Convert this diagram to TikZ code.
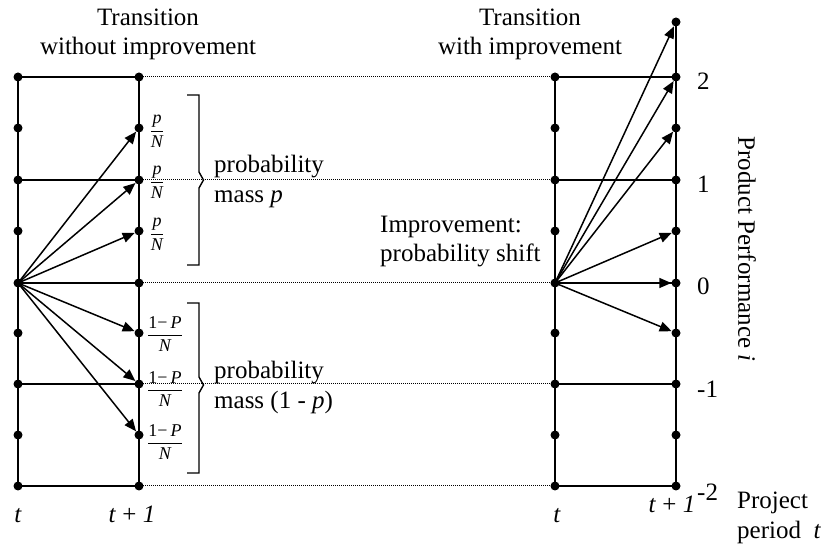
\documentclass[tikz,border=0pt]{standalone}
\usepackage{fontspec}
\setmainfont{Liberation Serif}
\usetikzlibrary{arrows.meta}
\begin{document}
\begin{tikzpicture}[x=1pt,y=-1pt,
  grid/.style={line width=1.8pt},
  dotline/.style={line width=1pt, dash pattern=on 1pt off 1pt},
  arr/.style={line width=1.5pt, -{Triangle[length=12pt,width=10pt]}},
  dot/.style={circle, fill=black, inner sep=0pt, minimum size=9pt},
  lab/.style={font=\fontsize{25}{29}\selectfont, inner sep=0pt},
  frac/.style={font=\fontsize{18}{21}\selectfont, inner sep=0pt},
  brk/.style={line width=1.4pt},
]
\useasboundingbox (0,0) rectangle (823,545);
% dots
\foreach \k/\y in {0/77,1/128,2/180,3/231,4/283,5/333,6/384,7/435,8/486}{
  \node[dot] (L\k) at (18,\y) {};
  \node[dot] (M\k) at (139,\y) {};
  \node[dot] (R\k) at (555,\y) {};
  \node[dot] (S\k) at (676,\y) {};
}
\node[dot] (S9) at (676,22) {};
% grids
\draw[grid] (L0.center) -- (L8.center);
\draw[grid] (M0.center) -- (M8.center);
\draw[grid] (R0.center) -- (R8.center);
\draw[grid] (S9.center) -- (S8.center);
\foreach \k in {0,2,4,6,8}{
  \draw[grid] (L\k.center) -- (M\k.center);
  \draw[grid] (R\k.center) -- (S\k.center);
  \draw[dotline] (M\k.center) -- (R\k.center);
}
% left arrows
\foreach \k in {1,2,3,5,6,7}{
  \draw[arr] (L4.center) -- (M\k);
}
% right arrows
\foreach \k in {9,0,1,3,4,5}{
  \draw[arr] (R4.center) -- (S\k);
}
% fractions
\node[frac] (f1) at (157,131) {$\displaystyle\frac{\textit{p}}{\textit{N}}$};
\node[frac] (f2) at (157,182) {$\displaystyle\frac{\textit{p}}{\textit{N}}$};
\node[frac] (f3) at (157,234) {$\displaystyle\frac{\textit{p}}{\textit{N}}$};
\node[frac] (f4) at (165,334) {$\displaystyle\frac{\textrm{1−}\,\textit{P}}{\textit{N}}$};
\node[frac] (f5) at (165,389) {$\displaystyle\frac{\textrm{1−}\,\textit{P}}{\textit{N}}$};
\node[frac] (f6) at (165,442) {$\displaystyle\frac{\textrm{1−}\,\textit{P}}{\textit{N}}$};
% brackets
\draw[brk] (187,95) -- (199,95) -- (199,172) -- (203.5,180) -- (199,188) -- (199,265) -- (187,265);
\draw[brk] (187,303) -- (199,303) -- (199,377) -- (203.5,385) -- (199,393) -- (199,473) -- (187,473);
% labels
\node[lab, anchor=base west] (pm1) at (214,173) {probability};
\node[lab, anchor=base west] (pm2) at (214,203) {mass \textit{p}};
\node[lab, anchor=base west] (pm3) at (214,379) {probability};
\node[lab, anchor=base west] (pm4) at (214,409) {mass (1 - \textit{p})};
\node[lab, anchor=base] (t1) at (148,26) {Transition};
\node[lab, anchor=base] (t2) at (148,55) {without improvement};
\node[lab, anchor=base] (t3) at (530,26) {Transition};
\node[lab, anchor=base] (t4) at (530,55) {with improvement};
\node[lab, anchor=base west] (im1) at (380,233) {Improvement:};
\node[lab, anchor=base west] (im2) at (380,262) {probability shift};
\node[lab, anchor=base west] (n2) at (697,90) {2};
\node[lab, anchor=base west] (n1) at (697,193) {1};
\node[lab, anchor=base west] (n0) at (697,295) {0};
\node[lab, anchor=base west] (nm1) at (697,398) {-1};
\node[lab, anchor=base west] (nm2) at (697,501) {-2};
\node[lab, rotate=-90] (pp) at (747,249) {Product Performance \textit{i}};
\node[lab, anchor=base west] (pr1) at (737,509) {Project};
\node[lab, anchor=base west] (pr2) at (737,539) {period \ \textit{t}};
\node[lab, anchor=base] (x1) at (18,523) {\textit{t}};
\node[lab, anchor=base] (x2) at (132,523) {\textit{t} + \textit{1}};
\node[lab, anchor=base] (x3) at (557,523) {\textit{t}};
\node[lab, anchor=base] (x4) at (672,513) {\textit{t} + \textit{1}};
\end{tikzpicture}
\end{document}
